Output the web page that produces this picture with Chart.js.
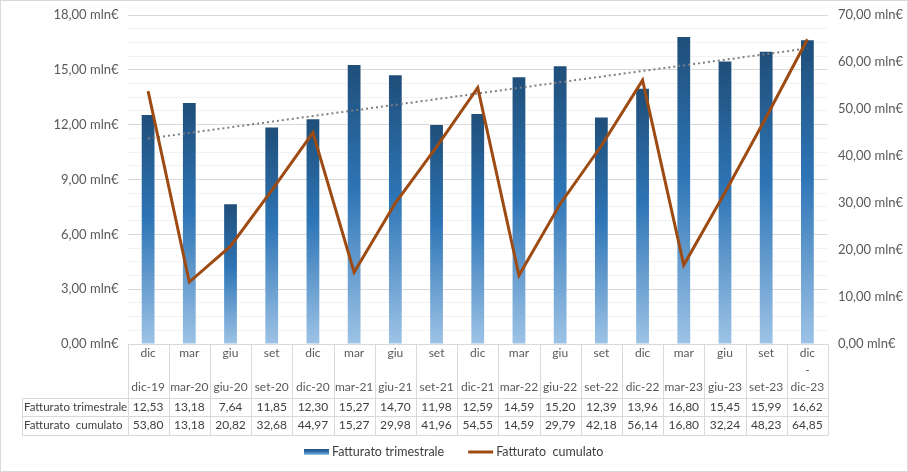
<!DOCTYPE html>
<html><head><meta charset="utf-8">
<script src="https://cdn.jsdelivr.net/npm/chart.js@4.4.0/dist/chart.umd.min.js"></script>
<style>html,body{margin:0;padding:0;background:#fff}canvas{display:block}</style>
</head><body>
<canvas id="c" width="908" height="472"></canvas>
<script>
const quarters = ['dic','mar','giu','set','dic','mar','giu','set','dic','mar','giu','set','dic','mar','giu','set','dic'];
const midLabels = ['','','','','','','','','','','','','','','','','-'];
const periods = ['dic-19','mar-20','giu-20','set-20','dic-20','mar-21','giu-21','set-21','dic-21','mar-22','giu-22','set-22','dic-22','mar-23','giu-23','set-23','dic-23'];
const quarterly = [12.53,13.18,7.64,11.85,12.30,15.27,14.70,11.98,12.59,14.59,15.20,12.39,13.96,16.80,15.45,15.99,16.62];
const cumulative = [53.80,13.18,20.82,32.68,44.97,15.27,29.98,41.96,54.55,14.59,29.79,42.18,56.14,16.80,32.24,48.23,64.85];
const trendEnds = [11.24, 16.17];
const seriesNames = ['Fatturato trimestrale', 'Fatturato  cumulato'];
const leftAxis = {max: 18, step: 3, minorStep: 0.75};
const rightAxis = {max: 70, step: 10};

const FONT = 'Lato, "Open Sans", sans-serif';
const fmt = v => v.toFixed(2).replace('.', ',');
const trendData = periods.map((_, i) => i === 0 ? trendEnds[0] : (i === periods.length - 1 ? trendEnds[1] : null));

function barGradient(ctx) {
  const chart = ctx.chart;
  const ca = chart.chartArea;
  if (!ca || ctx.type !== 'data') return '#2E75B6';
  const y = chart.scales.y;
  const top = y.getPixelForValue(ctx.parsed.y);
  const base = y.getPixelForValue(0);
  const g = chart.ctx.createLinearGradient(0, top, 0, base);
  g.addColorStop(0, '#1F4E79');
  g.addColorStop(0.45, '#2E75B6');
  g.addColorStop(1, '#9DC3E6');
  return g;
}

function line(ctx, x1, y1, x2, y2) {
  ctx.beginPath(); ctx.moveTo(x1, y1); ctx.lineTo(x2, y2); ctx.stroke();
}

const tablePlugin = {
  id: 'tablePlugin',
  beforeDraw(chart) {
    const {ctx, width, height} = chart;
    ctx.save();
    ctx.fillStyle = '#fff';
    ctx.fillRect(0, 0, width, height);
    ctx.strokeStyle = '#d9d9d9';
    ctx.lineWidth = 1;
    ctx.strokeRect(0.5, 0.5, width - 1, height - 1);
    ctx.restore();
  },
  afterDraw(chart) {
    const {ctx, chartArea: ca, scales: {x}} = chart;
    const n = periods.length;
    const cw = (ca.right - ca.left) / n;
    const top = Math.round(ca.bottom) + 0.5;
    const hdrB = top + 53;
    const r1 = hdrB + 18.5;
    const r2 = r1 + 18.5;
    const leftX = 22.5;
    ctx.save();
    ctx.strokeStyle = '#d9d9d9';
    ctx.lineWidth = 1;
    line(ctx, ca.left, top, ca.right, top);
    line(ctx, leftX, Math.round(hdrB) + 0.5, ca.right, Math.round(hdrB) + 0.5);
    line(ctx, leftX, Math.round(r1) + 0.5, ca.right, Math.round(r1) + 0.5);
    line(ctx, leftX, Math.round(r2) + 0.5, ca.right, Math.round(r2) + 0.5);
    for (let i = 0; i <= n; i++) {
      const xe = Math.round(ca.left + i * cw) + 0.5;
      line(ctx, xe, top, xe, Math.round(r2) + 0.5);
    }
    line(ctx, leftX, Math.round(hdrB) + 0.5, leftX, Math.round(r2) + 0.5);

    ctx.font = '12px ' + FONT;
    ctx.textBaseline = 'middle';
    ctx.textAlign = 'center';
    for (let i = 0; i < n; i++) {
      const cx = x.getPixelForValue(i);
      ctx.fillStyle = '#595959';
      ctx.fillText(quarters[i], cx, top + 9);
      ctx.fillText(midLabels[i], cx, top + 26);
      ctx.fillText(periods[i], cx, top + 43);
      ctx.fillStyle = '#404040';
      ctx.fillText(fmt(quarterly[i]), cx, hdrB + 9.5);
      ctx.fillText(fmt(cumulative[i]), cx, r1 + 9.5);
    }
    ctx.font = '11.5px ' + FONT;
    ctx.textAlign = 'left';
    ctx.fillStyle = '#404040';
    ctx.fillText(seriesNames[0], 24, hdrB + 9.5);
    ctx.fillText(seriesNames[1], 24, r1 + 9.5);

    // legend
    ctx.font = '12.5px ' + FONT;
    const w1 = ctx.measureText(seriesNames[0]).width;
    const w2 = ctx.measureText(seriesNames[1]).width;
    const total = 25 + 3 + w1 + 24 + 25 + 3 + w2;
    let lx = Math.round(chart.width / 2 - total / 2);
    const ly = 452;
    const lg = ctx.createLinearGradient(0, ly - 3, 0, ly + 3);
    lg.addColorStop(0, '#1F4E79'); lg.addColorStop(0.5, '#2E75B6'); lg.addColorStop(1, '#9DC3E6');
    ctx.fillStyle = lg;
    ctx.fillRect(lx, ly - 3, 25, 6);
    ctx.fillStyle = '#404040';
    ctx.fillText(seriesNames[0], lx + 28, ly);
    lx += 28 + w1 + 24;
    ctx.strokeStyle = '#9E4B13';
    ctx.lineWidth = 3;
    line(ctx, lx, ly, lx + 25, ly);
    ctx.fillText(seriesNames[1], lx + 28, ly);
    ctx.restore();
  }
};

function fixVertical(width) {
  return s => { s.width = width; s.paddingTop = 0; s.paddingBottom = 0; };
}

new Chart(document.getElementById('c'), {
  data: {
    labels: periods,
    datasets: [
      {
        type: 'bar', label: seriesNames[0], data: quarterly, yAxisID: 'y', order: 3,
        backgroundColor: barGradient, barPercentage: 0.31, categoryPercentage: 1
      },
      {
        type: 'line', label: 'Tendenza', data: trendData, yAxisID: 'y', order: 2,
        borderColor: '#7f7f7f', borderWidth: 2, borderDash: [2, 3], pointRadius: 0, spanGaps: true, tension: 0
      },
      {
        type: 'line', label: seriesNames[1], data: cumulative, yAxisID: 'y1', order: 1,
        borderColor: '#9E4B13', borderWidth: 3, pointRadius: 0, tension: 0, borderJoinStyle: 'miter'
      }
    ]
  },
  options: {
    responsive: false,
    animation: false,
    devicePixelRatio: 1,
    layout: {padding: {top: 15, left: 0, right: 0, bottom: 39}},
    plugins: {legend: {display: false}, tooltip: {enabled: false}},
    scales: {
      x: {
        offset: true,
        grid: {display: false},
        border: {display: false},
        ticks: {display: false},
        afterFit(s) { s.height = 89; s.paddingLeft = 0; s.paddingRight = 0; }
      },
      y: {
        position: 'left', min: 0, max: leftAxis.max,
        border: {display: false},
        grid: {
          drawTicks: false,
          color: c => {
            const v = c.tick ? c.tick.value : 0;
            return Math.abs(v / leftAxis.step - Math.round(v / leftAxis.step)) < 1e-6 ? '#d9d9d9' : '#f2f2f2';
          }
        },
        ticks: {
          stepSize: leftAxis.minorStep, autoSkip: false, padding: 9, color: '#595959',
          font: {family: FONT, size: 13},
          callback: v => Math.abs(v / leftAxis.step - Math.round(v / leftAxis.step)) < 1e-6 ? fmt(v) + ' mln€' : ''
        },
        afterFit: fixVertical(127.5)
      },
      y1: {
        position: 'right', min: 0, max: rightAxis.max,
        border: {display: false},
        grid: {drawOnChartArea: false, drawTicks: false},
        ticks: {
          stepSize: rightAxis.step, padding: 10, color: '#595959',
          font: {family: FONT, size: 13},
          callback: v => fmt(v) + ' mln€'
        },
        afterFit: fixVertical(80)
      }
    }
  },
  plugins: [tablePlugin]
});
</script>
</body></html>
